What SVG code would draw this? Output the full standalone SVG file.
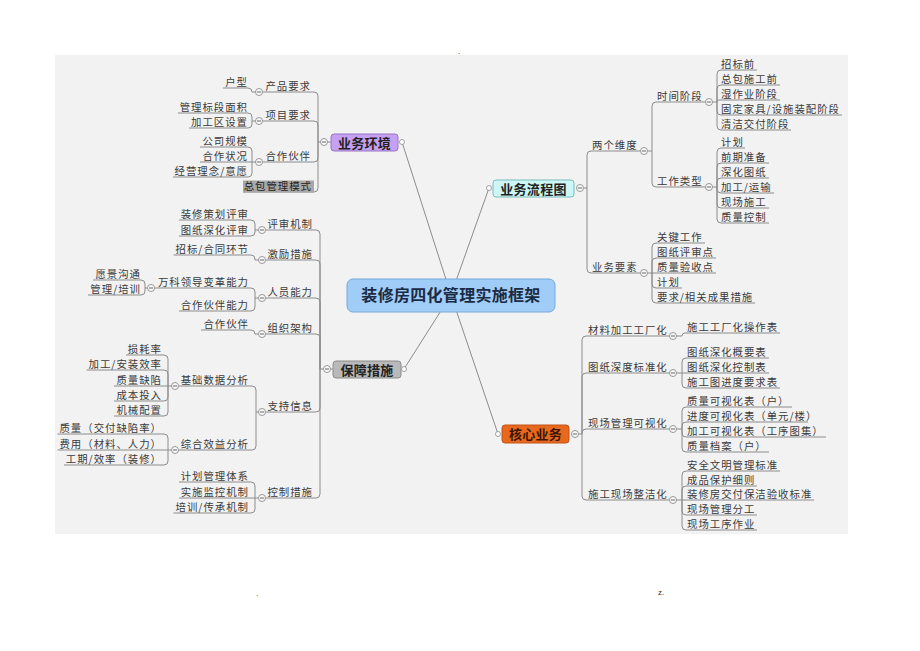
<svg xmlns="http://www.w3.org/2000/svg" xmlns:xlink="http://www.w3.org/1999/xlink" width="920" height="651" viewBox="0 0 920 651">
<style>
.ln{fill:none;stroke:#8c8c8c;stroke-width:1}
.t{font-family:"Noto Sans CJK SC","Noto Sans",sans-serif;font-size:10.4px;fill:#3a3a3a;letter-spacing:1px}
.l{text-anchor:end}
.cc{fill:#fafafa;stroke:#8c8c8c;stroke-width:0.9}
.m{stroke:#555;stroke-width:0.9}
.ec{fill:#fff;stroke:#8c8c8c;stroke-width:0.8}
.nt{font-family:"Noto Sans CJK SC","Noto Sans",sans-serif;font-size:13px;font-weight:bold;text-anchor:middle;fill:#222;letter-spacing:0.3px}
.pg{font-family:"Liberation Sans",sans-serif;font-size:8px;fill:#333}
</style>
<defs>
<g id="cc"><circle r="3.5" class="cc"/><path d="M-2,0H2" class="m"/></g>
</defs>
<rect width="920" height="651" fill="#fff"/>
<rect x="55" y="55" width="793" height="479" fill="#f2f2f2"/>
<text class="pg" x="458" y="54">.</text>
<text class="pg" x="256" y="596">.</text>
<text class="pg" x="658" y="595">z.</text>

<g id="connectors" class="ln">
<!-- central -->
<path d="M451,295L402,142M451,295L489,188M451,295L404,369M451,295L498,434"/>
<!-- 业务环境 -->
<path d="M262.5,92H314Q318,92 318,96V142M262.5,121H314Q318,121 318,125V142M262.5,162H314Q318,162 318,158V142M243,192H314Q318,192 318,188V142M318,142H320.5M327.5,142H331"/>
<path d="M223,88H248Q252,88 252,92H255.5"/>
<path d="M178,113H248Q252,113 252,117V121M189,128H248Q252,128 252,124V121M252,121H255.5"/>
<path d="M200,147H248Q252,147 252,151V162M200,162H255.5M173,177H248Q252,177 252,173V162"/>
<!-- 保障措施 -->
<path d="M265.5,230H316Q320,230 320,234V369M265.5,260H316Q320,260 320,264V369M265.5,298H316Q320,298 320,302V369M265.5,334H316Q320,334 320,338V369M265.5,412H316Q320,412 320,408V369M265.5,498H316Q320,498 320,494V369M320,369H323.5M330.5,369H333"/>
<path d="M179,220H251Q255,220 255,224V230M179,236H251Q255,236 255,232V230M255,230H258.5"/>
<path d="M173.5,255H251Q255,255 255,259V260H258.5"/>
<path d="M154.5,288H251Q255,288 255,292V298M179,311H251Q255,311 255,307V298M255,298H258.5"/>
<path d="M93,280H141Q145,280 145,284V288M88,295H141Q145,295 145,291V288M145,288H147.5"/>
<path d="M201,330H251Q255,330 255,334H258.5"/>
<path d="M178.5,386H252Q256,386 256,390V412M178.5,450H252Q256,450 256,446V412M256,412H258.5"/>
<path d="M126,355H164Q168,355 168,359V386M86.5,370H164Q168,370 168,374V386M114,386H171.5M114,401H164Q168,401 168,397V386M114,416H164Q168,416 168,412V386"/>
<path d="M57.5,434H164Q168,434 168,438V450M57.5,450H171.5M64,465H164Q168,465 168,461V450"/>
<path d="M179,482H251Q255,482 255,486V498M179,498H258.5M173.5,513H251Q255,513 255,509V498"/>
<!-- 业务流程图 -->
<path d="M640.5,151H591Q587,151 587,155V188M640.5,273H591Q587,273 587,269V188M583.5,188H587"/>
<path d="M705.5,102H656Q652,102 652,106V151M705.5,187H656Q652,187 652,183V151M647.5,151H652"/>
<path d="M757,70H721Q717,70 717,74V102M780,85H721Q717,85 717,89V102M780,100H719Q717,100 717,102M842,115H721Q717,115 717,111V102M791,130H721Q717,130 717,126V102M712.5,102H717"/>
<path d="M745,148H721Q717,148 717,152V187M769,163H721Q717,163 717,167V187M769,178H721Q717,178 717,182V187M774,193H721Q717,193 717,189V187M769,208H721Q717,208 717,204V187M769,223H721Q717,223 717,219V187M712.5,187H717"/>
<path d="M705,243H656Q652,243 652,247V273M716,258H656Q652,258 652,262V273M716,273H647.5M682,288H656Q652,288 652,284V273M755,303H656Q652,303 652,299V273"/>
<!-- 核心业务 -->
<path d="M669.5,336H586Q582,336 582,340V434M669.5,373H586Q582,373 582,377V434M669.5,429H586Q582,429 582,433V434M669.5,500H586Q582,500 582,496V434M578.5,434H582"/>
<path d="M780,333H685Q682,333 682,336H676.5"/>
<path d="M769,358H686Q682,358 682,362V373M769,373H676.5M780,388H686Q682,388 682,384V373"/>
<path d="M792,407H686Q682,407 682,411V429M808,422H686Q682,422 682,426V429M826,437H686Q682,437 682,433V429M769,452H686Q682,452 682,448V429M676.5,429H682"/>
<path d="M780,471H686Q682,471 682,475V500M757,486H686Q682,486 682,490V500M814,500H676.5M757,515H686Q682,515 682,511V500M757,530H686Q682,530 682,526V500"/>
</g>

<g id="center">
<rect x="347" y="279" width="208" height="33" rx="6" fill="#9fcdf7" stroke="#74a8da"/>
<text x="451" y="301" class="nt" style="font-size:16px;fill:#1c2b44">装修房四化管理实施框架</text>
</g>

<g id="yewuhuanjing">
<rect x="331" y="134" width="67" height="17" rx="3" fill="#c6a0f2" stroke="#9a74c8"/>
<text x="364.5" y="147.5" class="nt">业务环境</text>
<circle cx="402" cy="142" r="2.5" class="ec"/>
<use xlink:href="#cc" x="324" y="142"/>
</g>
<g id="chanpinyaoqiu"><text x="311" y="89.5" class="t l">产品要求</text><use xlink:href="#cc" x="259" y="92"/></g>
<g id="huxing"><text x="248" y="85.5" class="t l">户型</text></g>
<g id="xiangmuyaoqiu"><text x="311" y="118.5" class="t l">项目要求</text><use xlink:href="#cc" x="259" y="121"/></g>
<g id="guanlibiaoduan"><text x="248" y="110.5" class="t l">管理标段面积</text></g>
<g id="jiagongqu"><text x="248" y="125.5" class="t l">加工区设置</text></g>
<g id="hezuohuoban1"><text x="311" y="159.5" class="t l">合作伙伴</text><use xlink:href="#cc" x="259" y="162"/></g>
<g id="gongsiguimo"><text x="248" y="144.5" class="t l">公司规模</text></g>
<g id="hezuozhuangkuang"><text x="248" y="159.5" class="t l">合作状况</text></g>
<g id="jingyinglinian"><text x="248" y="174.5" class="t l">经营理念/意愿</text></g>
<g id="zongbao"><rect x="243" y="180.5" width="71" height="12" fill="#a8a8a8"/><text x="312" y="190" class="t l" style="fill:#222">总包管理模式</text></g>

<g id="baozhangcuoshi">
<rect x="333" y="361" width="68" height="17" rx="3" fill="#b9b9b9" stroke="#8c8c8c"/>
<text x="367" y="374.5" class="nt">保障措施</text>
<circle cx="404" cy="369" r="2.5" class="ec"/>
<use xlink:href="#cc" x="327" y="369"/>
</g>
<g id="pingshenjizhi"><text x="313" y="227.5" class="t l">评审机制</text><use xlink:href="#cc" x="262" y="230"/></g>
<g id="zhuangxiucehua"><text x="249" y="217.5" class="t l">装修策划评审</text></g>
<g id="tuzhishenhua"><text x="249" y="233.5" class="t l">图纸深化评审</text></g>
<g id="jilicuoshi"><text x="313" y="257.5" class="t l">激励措施</text><use xlink:href="#cc" x="262" y="260"/></g>
<g id="zhaobiao"><text x="249" y="252.5" class="t l">招标/合同环节</text></g>
<g id="renyuannengli"><text x="313" y="295.5" class="t l">人员能力</text><use xlink:href="#cc" x="262" y="298"/></g>
<g id="wanke"><text x="249" y="285.5" class="t l">万科领导变革能力</text><use xlink:href="#cc" x="151" y="288"/></g>
<g id="yuanjing"><text x="141" y="277.5" class="t l">愿景沟通</text></g>
<g id="guanlipeixun"><text x="141" y="292.5" class="t l">管理/培训</text></g>
<g id="hezuonengli"><text x="249" y="308.5" class="t l">合作伙伴能力</text></g>
<g id="zuzhijiagou"><text x="313" y="331.5" class="t l">组织架构</text><use xlink:href="#cc" x="262" y="334"/></g>
<g id="hezuohuoban2"><text x="249" y="327.5" class="t l">合作伙伴</text></g>
<g id="zhichixinxi"><text x="313" y="409.5" class="t l">支持信息</text><use xlink:href="#cc" x="262" y="412"/></g>
<g id="jichushuju"><text x="249" y="383.5" class="t l">基础数据分析</text><use xlink:href="#cc" x="175" y="386"/></g>
<g id="sunhaolv"><text x="162" y="352.5" class="t l">损耗率</text></g>
<g id="anzhuangxiaolv"><text x="162" y="367.5" class="t l">加工/安装效率</text></g>
<g id="zhiliangquexian"><text x="162" y="383.5" class="t l">质量缺陷</text></g>
<g id="chengben"><text x="162" y="398.5" class="t l">成本投入</text></g>
<g id="jixie"><text x="162" y="413.5" class="t l">机械配置</text></g>
<g id="zonghexiaoyi"><text x="249" y="447.5" class="t l">综合效益分析</text><use xlink:href="#cc" x="175" y="450"/></g>
<g id="zhiliang"><text x="162" y="431.5" class="t l">质量（交付缺陷率）</text></g>
<g id="feiyong"><text x="162" y="447.5" class="t l">费用（材料、人力）</text></g>
<g id="gongqi"><text x="162" y="462.5" class="t l">工期/效率（装修）</text></g>
<g id="kongzhicuoshi"><text x="313" y="495.5" class="t l">控制措施</text><use xlink:href="#cc" x="262" y="498"/></g>
<g id="jihuaguanli"><text x="249" y="479.5" class="t l">计划管理体系</text></g>
<g id="shishijiankong"><text x="249" y="495.5" class="t l">实施监控机制</text></g>
<g id="peixun"><text x="249" y="510.5" class="t l">培训/传承机制</text></g>

<g id="yewuliucheng">
<rect x="493" y="180" width="81" height="17" rx="3" fill="#cdf6f6" stroke="#78bcbc"/>
<text x="533.5" y="193.5" class="nt">业务流程图</text>
<circle cx="489" cy="188" r="2.5" class="ec"/>
<use xlink:href="#cc" x="580" y="188"/>
</g>
<g id="lianggeweidu"><text x="592" y="148.5" class="t">两个维度</text><use xlink:href="#cc" x="644" y="151"/></g>
<g id="shijianjieduan"><text x="657" y="99.5" class="t">时间阶段</text><use xlink:href="#cc" x="709" y="102"/></g>
<g id="zhaobiaoqian"><text x="721" y="67.5" class="t">招标前</text></g>
<g id="zongbaoshigong"><text x="721" y="82.5" class="t">总包施工前</text></g>
<g id="shizuoye"><text x="721" y="97.5" class="t">湿作业阶段</text></g>
<g id="gudingjiaju"><text x="721" y="112.5" class="t">固定家具/设施装配阶段</text></g>
<g id="qingjiejiaofu"><text x="721" y="127.5" class="t">清洁交付阶段</text></g>
<g id="gongzuoleixing"><text x="657" y="184.5" class="t">工作类型</text><use xlink:href="#cc" x="709" y="187"/></g>
<g id="jihua1"><text x="721" y="145.5" class="t">计划</text></g>
<g id="qianqi"><text x="721" y="160.5" class="t">前期准备</text></g>
<g id="shenhuatuzhi"><text x="721" y="175.5" class="t">深化图纸</text></g>
<g id="jiagongyunshu"><text x="721" y="190.5" class="t">加工/运输</text></g>
<g id="xianchangshigong"><text x="721" y="205.5" class="t">现场施工</text></g>
<g id="zhiliangkongzhi"><text x="721" y="220.5" class="t">质量控制</text></g>
<g id="yewuyaosu"><text x="592" y="270.5" class="t">业务要素</text><use xlink:href="#cc" x="644" y="273"/></g>
<g id="guanjiangongzuo"><text x="657" y="240.5" class="t">关键工作</text></g>
<g id="tuzhipingshen"><text x="657" y="255.5" class="t">图纸评审点</text></g>
<g id="zhiliangyanshou"><text x="657" y="270.5" class="t">质量验收点</text></g>
<g id="jihua2"><text x="657" y="285.5" class="t">计划</text></g>
<g id="yaoqiu"><text x="657" y="300.5" class="t">要求/相关成果措施</text></g>

<g id="hexinyewu">
<rect x="502" y="425" width="67" height="18" rx="3" fill="#e8691e" stroke="#c2521a"/>
<text x="535.5" y="439" class="nt" style="fill:#3d1500">核心业务</text>
<circle cx="498" cy="434" r="2.5" class="ec"/>
<use xlink:href="#cc" x="575" y="434"/>
</g>
<g id="cailiaojiagong"><text x="588" y="333.5" class="t">材料加工工厂化</text><use xlink:href="#cc" x="673" y="336"/></g>
<g id="shigonggongchang"><text x="687" y="330.5" class="t">施工工厂化操作表</text></g>
<g id="tuzhishendu"><text x="588" y="370.5" class="t">图纸深度标准化</text><use xlink:href="#cc" x="673" y="373"/></g>
<g id="gaiyaobiao"><text x="687" y="355.5" class="t">图纸深化概要表</text></g>
<g id="kongzhibiao"><text x="687" y="370.5" class="t">图纸深化控制表</text></g>
<g id="jinduyaoqiu"><text x="687" y="385.5" class="t">施工图进度要求表</text></g>
<g id="keshihua"><text x="588" y="426.5" class="t">现场管理可视化</text><use xlink:href="#cc" x="673" y="429"/></g>
<g id="zlksh"><text x="687" y="404.5" class="t">质量可视化表（户）</text></g>
<g id="jdksh"><text x="687" y="419.5" class="t">进度可视化表（单元/楼）</text></g>
<g id="jgksh"><text x="687" y="434.5" class="t">加工可视化表（工序图集）</text></g>
<g id="zldangan"><text x="687" y="449.5" class="t">质量档案（户）</text></g>
<g id="zhengjiehua"><text x="588" y="497.5" class="t">施工现场整洁化</text><use xlink:href="#cc" x="673" y="500"/></g>
<g id="anquanwenming"><text x="687" y="468.5" class="t">安全文明管理标准</text></g>
<g id="chengpinbaohu"><text x="687" y="483.5" class="t">成品保护细则</text></g>
<g id="baojieyanshou"><text x="687" y="497.5" class="t">装修房交付保洁验收标准</text></g>
<g id="fengong"><text x="687" y="512.5" class="t">现场管理分工</text></g>
<g id="gongxu"><text x="687" y="527.5" class="t">现场工序作业</text></g>
</svg>
